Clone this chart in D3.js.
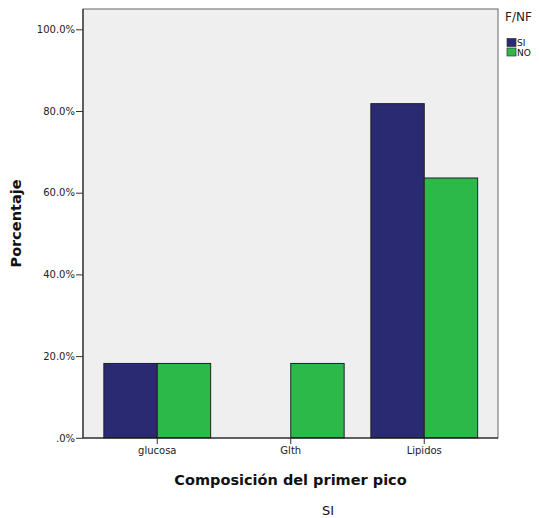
<!DOCTYPE html>
<html><head><meta charset="utf-8">
<script src="https://cdn.jsdelivr.net/npm/d3@7"></script>
<style>body{margin:0;background:#fff}svg{display:block}</style>
</head><body>
<script>
const categories = ["glucosa", "Glth", "Lipidos"];
const seriesNames = ["SI", "NO"];
const valuesSI = [18.2, 0, 81.8];
const valuesNO = [18.2, 18.2, 63.6];
const yTicks = [0, 20, 40, 60, 80, 100];
const yTickLabels = [".0%", "20.0%", "40.0%", "60.0%", "80.0%", "100.0%"];
const colors = {SI: "#292a72", NO: "#2db84a"};

const W = 539, H = 518;
const svg = d3.select("body").append("svg").attr("width", W).attr("height", H);
const plot = {l: 83, r: 498, t: 9, b: 438};
const font = "'DejaVu Sans', Verdana, sans-serif";

const y = d3.scaleLinear().domain([0, 100]).range([437.8, 29.3]);
const x = d3.scaleBand().domain(categories).range([90.5, 491]).padding(0);
const xs = d3.scaleBand().domain(seriesNames).range([0, x.bandwidth()]).paddingInner(0).paddingOuter(0.25);

svg.append("rect").attr("x", plot.l).attr("y", plot.t)
  .attr("width", plot.r - plot.l).attr("height", plot.b - plot.t)
  .attr("fill", "#efefef").attr("stroke", "#666").attr("stroke-width", 1);

const data = categories.map((c, i) => ({cat: c, SI: valuesSI[i], NO: valuesNO[i]}));
const g = svg.append("g");
data.forEach(d => {
  seriesNames.forEach(s => {
    if (d[s] <= 0) return;
    g.append("rect")
      .attr("x", x(d.cat) + xs(s))
      .attr("y", y(d[s]))
      .attr("width", xs.bandwidth())
      .attr("height", y(0) - y(d[s]))
      .attr("fill", colors[s])
      .attr("stroke", "#222").attr("stroke-width", 1);
  });
});

// y axis
const yAxis = d3.axisLeft(y).tickValues(yTicks).tickFormat((d, i) => yTickLabels[i]).tickSize(7).tickPadding(1);
const ya = svg.append("g").attr("transform", `translate(${plot.l},0)`).call(yAxis);
ya.select(".domain").attr("d", `M0,${plot.t}V${plot.b}`).attr("stroke", "#444").attr("stroke-width", 1.5);
ya.selectAll(".tick line").attr("stroke", "#333");
ya.selectAll(".tick text").attr("font-family", font).attr("font-size", 10).attr("fill", "#222");

// x axis
const xAxis = d3.axisBottom(x).tickSize(6).tickPadding(3);
const xa = svg.append("g").attr("transform", `translate(0,${plot.b})`).call(xAxis);
xa.select(".domain").attr("d", `M${plot.l},0H${plot.r}`).attr("stroke", "#111");
xa.selectAll(".tick").attr("transform", d => `translate(${x(d) + xs("SI") + xs.bandwidth()},0)`);
xa.selectAll(".tick line").attr("stroke", "#333");
xa.selectAll(".tick text").attr("font-family", font).attr("font-size", 10).attr("fill", "#222");

// titles
svg.append("text").attr("transform", `translate(21,${(plot.t + plot.b) / 2}) rotate(-90)`)
  .attr("text-anchor", "middle").attr("font-family", font).attr("font-weight", "bold")
  .attr("font-size", 14.5).attr("fill", "#111").text("Porcentaje");
svg.append("text").attr("x", (plot.l + plot.r) / 2).attr("y", 485)
  .attr("text-anchor", "middle").attr("font-family", font).attr("font-weight", "bold")
  .attr("font-size", 14.5).attr("fill", "#111").text("Composición del primer pico");
svg.append("text").attr("x", 328).attr("y", 515)
  .attr("text-anchor", "middle").attr("font-family", font)
  .attr("font-size", 13).attr("fill", "#111").text("SI");

// legend
svg.append("text").attr("x", 505).attr("y", 21).attr("font-family", font)
  .attr("font-size", 12).attr("fill", "#222").text("F/NF");
seriesNames.forEach((s, i) => {
  svg.append("rect").attr("x", 507).attr("y", 38.5 + i * 9.5).attr("width", 9).attr("height", 8)
    .attr("fill", colors[s]).attr("stroke", "#333").attr("stroke-width", 0.7);
  svg.append("text").attr("x", 517).attr("y", 46 + i * 9.5).attr("font-family", font)
    .attr("font-size", 9).attr("fill", "#111").text(s);
});
</script>
</body></html>
